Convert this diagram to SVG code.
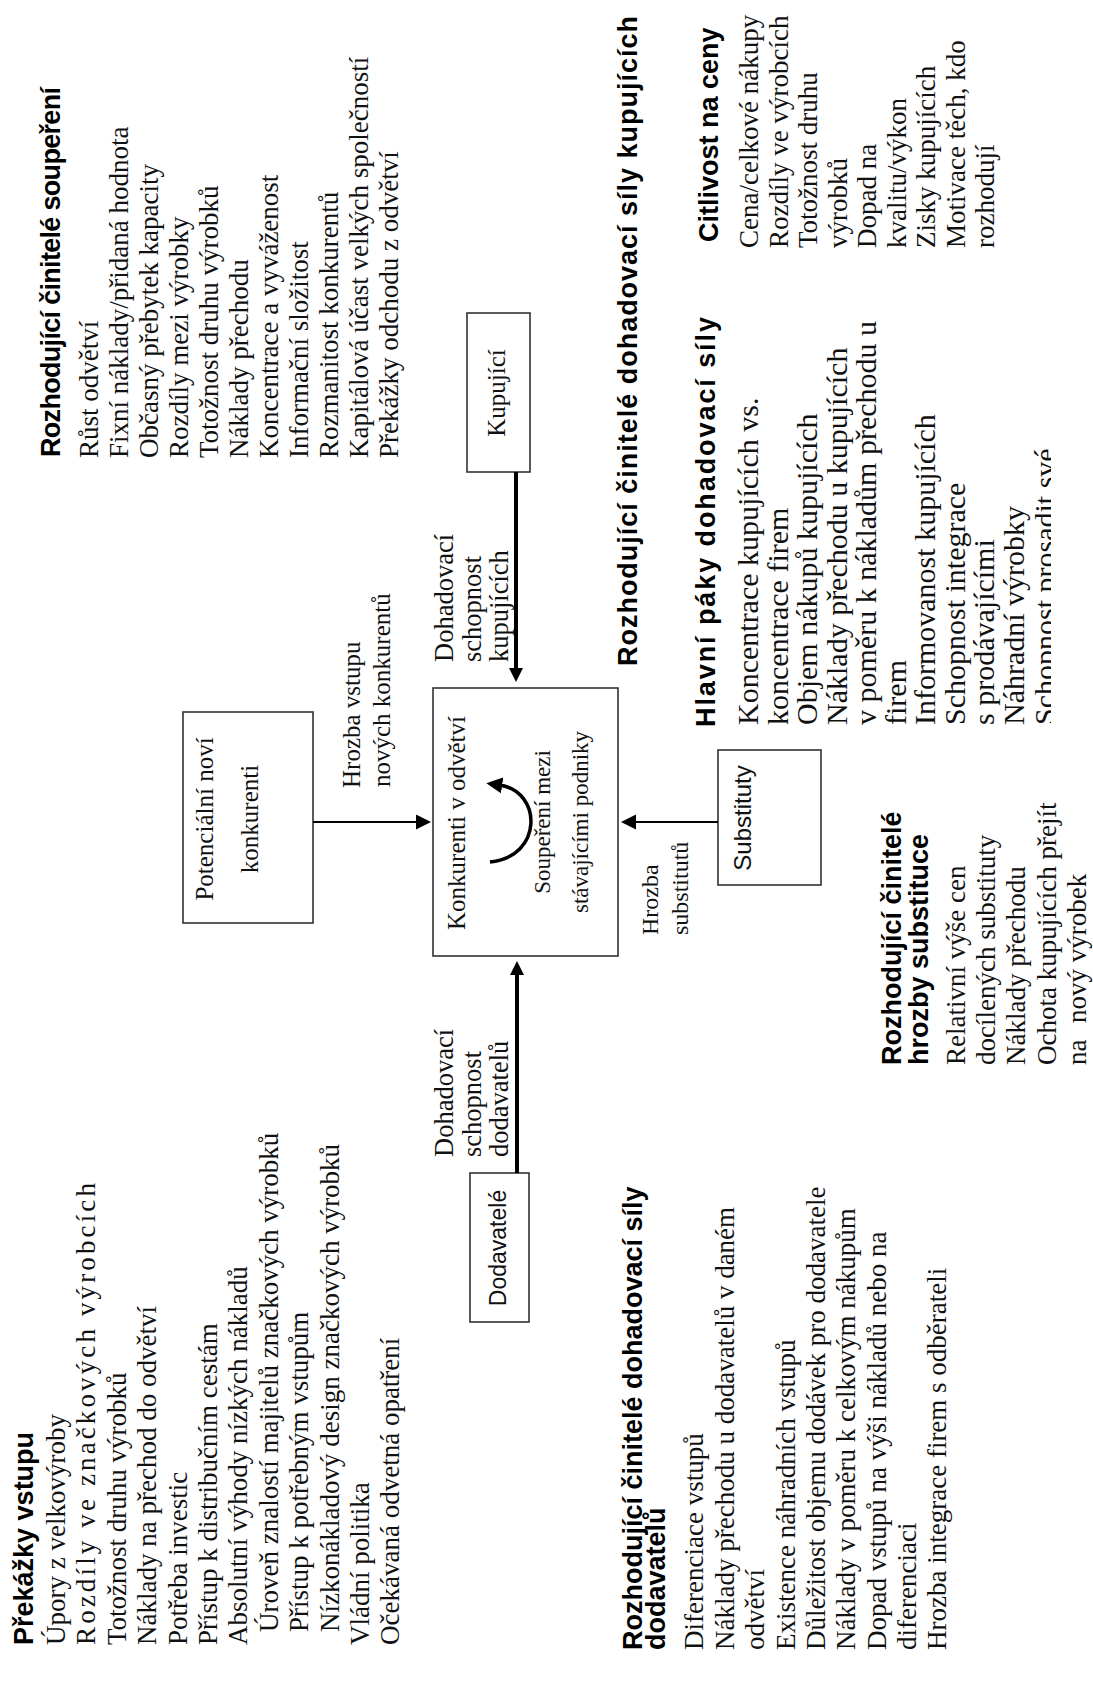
<svg xmlns="http://www.w3.org/2000/svg" width="1093" height="1695" viewBox="0 0 1093 1695">
<defs>
<style>
.t{font-family:"Liberation Serif","Times New Roman",serif;font-size:27px;fill:#111}
.tb{font-family:"Liberation Serif","Times New Roman",serif;font-size:30px;fill:#111}
.h{font-family:"Liberation Sans",Arial,sans-serif;font-size:27px;font-weight:bold;fill:#000}
.lbl{font-family:"Liberation Serif","Times New Roman",serif;font-size:25px;fill:#111}
.lba{font-family:"Liberation Serif","Times New Roman",serif;font-size:26.5px;fill:#111}
.lbs{font-family:"Liberation Serif","Times New Roman",serif;font-size:23px;fill:#111}
.sans{font-family:"Liberation Sans",Arial,sans-serif;font-size:23px;fill:#111}
.box{fill:#fff;stroke:#333;stroke-width:1.6}
.thin{fill:none;stroke:#000;stroke-width:2}
.thick{fill:none;stroke:#000;stroke-width:4}
</style>
<marker id="ah" viewBox="0 0 10 10" refX="0" refY="5" markerUnits="userSpaceOnUse" markerWidth="15" markerHeight="17" orient="auto">
<path d="M0,0 L10,5 L0,10 z" fill="#000"/>
</marker>
<marker id="ahk" viewBox="0 0 10 10" refX="0" refY="5" markerUnits="userSpaceOnUse" markerWidth="16" markerHeight="14" orient="auto">
<path d="M0,0 L10,5 L0,10 z" fill="#000"/>
</marker>
<marker id="ahc" viewBox="0 0 10 10" refX="2" refY="5" markerUnits="userSpaceOnUse" markerWidth="16" markerHeight="16" orient="auto">
<path d="M0,0 L10,5 L0,10 z" fill="#000"/>
</marker>
<clipPath id="cut" clipPathUnits="userSpaceOnUse">
<rect x="0" y="0" width="1695" height="1051"/>
</clipPath>
</defs>
<rect width="1093" height="1695" fill="#fff"/>
<g transform="translate(0,1695) rotate(-90)">

<g id="node-potencialni">
<rect class="box" x="772" y="183" width="211" height="130"/>
<text class="lbl" x="876" y="213" text-anchor="middle">Potenciální noví</text>
<text class="lbl" x="876" y="258" text-anchor="middle">konkurenti</text>
</g>

<g id="node-konkurenti">
<rect class="box" x="739" y="433" width="268" height="185"/>
<text class="lbl" x="872" y="465" text-anchor="middle">Konkurenti v odvětví</text>
<text class="lbs" x="873" y="550" text-anchor="middle">Soupeření mezi</text>
<text class="lbs" x="873" y="588" text-anchor="middle">stávajícími podniky</text>
</g>

<g id="node-kupujici">
<rect class="box" x="1223" y="467" width="159" height="63"/>
<text class="lbl" x="1302" y="505" text-anchor="middle">Kupující</text>
</g>

<g id="node-dodavatele">
<rect class="box" x="373" y="470" width="149" height="59"/>
<text class="sans" x="447" y="506" text-anchor="middle">Dodavatelé</text>
</g>

<g id="node-substituty">
<rect class="box" x="810" y="718" width="135" height="103"/>
<text class="sans" x="877" y="751" text-anchor="middle" style="font-size:24px">Substituty</text>
</g>

<g id="connectors">
<line class="thin" x1="873" y1="313" x2="873" y2="416" marker-end="url(#ah)"/>
<line class="thick" x1="1223" y1="516" x2="1027" y2="516" marker-end="url(#ahk)"/>
<line class="thin" x1="873" y1="718" x2="873" y2="636" marker-end="url(#ah)"/>
<line class="thick" x1="522" y1="517" x2="720" y2="517" marker-end="url(#ahk)"/>
<path d="M833,490 C838,543 904,543 910,499" fill="none" stroke="#000" stroke-width="3.5" marker-end="url(#ahc)"/>
<text class="lbl" x="907" y="360">Hrozba vstupu</text>
<text class="lbl" x="908" y="390">nových konkurentů</text>
<text class="lba" x="1033" y="453">Dohadovací</text>
<text class="lba" x="1033" y="481">schopnost</text>
<text class="lba" x="1033" y="508">kupujících</text>
<text class="lbl" x="760" y="658" style="font-size:24px">Hrozba</text>
<text class="lbl" x="760" y="688" style="font-size:24px">substitutů</text>
<text class="lba" x="538" y="453">Dohadovací</text>
<text class="lba" x="538" y="481">schopnost</text>
<text class="lba" x="538" y="508">dodavatelů</text>
</g>

<g id="prekazky-vstupu">
<text class="h" x="50" y="33">Překážky vstupu</text>
<text class="t" x="50" y="65">Úpory z velkovýroby</text>
<text class="t" x="50" y="95.4" textLength="462" lengthAdjust="spacing">Rozdíly ve značkových výrobcích</text>
<text class="t" x="50" y="125.8">Totožnost druhu výrobků</text>
<text class="t" x="50" y="156.2">Náklady na přechod do odvětví</text>
<text class="t" x="50" y="186.6">Potřeba investic</text>
<text class="t" x="50" y="217">Přístup k distribučním cestám</text>
<text class="t" x="50" y="247.4">Absolutní výhody nízkých nákladů</text>
<text class="t" x="63" y="277.8">Úroveň znalostí majitelů značkových výrobků</text>
<text class="t" x="63" y="308.2">Přístup k potřebným vstupům</text>
<text class="t" x="63" y="338.6">Nízkonákladový design značkových výrobků</text>
<text class="t" x="50" y="369">Vládní politika</text>
<text class="t" x="50" y="399.4">Očekávaná odvetná opatření</text>
</g>

<g id="souperni">
<text class="h" x="1238" y="60" textLength="370" lengthAdjust="spacing">Rozhodující činitelé soupeření</text>
<text class="t" x="1237" y="98">Růst odvětví</text>
<text class="t" x="1237" y="128">Fixní náklady/přidaná hodnota</text>
<text class="t" x="1237" y="158">Občasný přebytek kapacity</text>
<text class="t" x="1237" y="188">Rozdíly mezi výrobky</text>
<text class="t" x="1237" y="218">Totožnost druhu výrobků</text>
<text class="t" x="1237" y="248">Náklady přechodu</text>
<text class="t" x="1237" y="278">Koncentrace a vyváženost</text>
<text class="t" x="1237" y="308">Informační složitost</text>
<text class="t" x="1237" y="338">Rozmanitost konkurentů</text>
<text class="t" x="1237" y="368">Kapitálová účast velkých společností</text>
<text class="t" x="1237" y="398">Překážky odchodu z odvětví</text>
</g>

<g id="dodavatele-cinitele">
<text class="h" x="45" y="642">Rozhodující činitelé dohadovací síly</text>
<text class="h" x="45" y="665">dodavatelů</text>
<text class="t" x="45" y="703">Diferenciace vstupů</text>
<text class="t" x="45" y="734">Náklady přechodu u dodavatelů v daném</text>
<text class="t" x="45" y="764">odvětví</text>
<text class="t" x="45" y="795">Existence náhradních vstupů</text>
<text class="t" x="45" y="825">Důležitost objemu dodávek pro dodavatele</text>
<text class="t" x="45" y="855">Náklady v poměru k celkovým nákupům</text>
<text class="t" x="45" y="886">Dopad vstupů na výši nákladů nebo na</text>
<text class="t" x="45" y="916">diferenciaci</text>
<text class="t" x="45" y="946">Hrozba integrace firem s odběrateli</text>
</g>

<g id="substituce-cinitele">
<text class="h" x="630" y="901">Rozhodující činitelé</text>
<text class="h" x="630" y="928">hrozby substituce</text>
<text class="t" x="630" y="965">Relativní výše cen</text>
<text class="t" x="630" y="995">docílených substituty</text>
<text class="t" x="630" y="1025">Náklady přechodu</text>
<text class="t" x="630" y="1056">Ochota kupujících přejít</text>
<text class="t" x="630" y="1086">na<tspan x="672">nový výrobek</tspan></text>
</g>

<g id="kupujici-cinitele">
<text class="h" x="1029" y="637" textLength="650" lengthAdjust="spacing">Rozhodující činitelé dohadovací síly kupujících</text>
<text class="h" x="968" y="715" textLength="410" lengthAdjust="spacing">Hlavní páky dohadovací síly</text>
<text class="tb" x="970" y="758">Koncentrace kupujících vs.</text>
<text class="tb" x="970" y="787.5">koncentrace firem</text>
<text class="tb" x="970" y="817">Objem nákupů kupujících</text>
<text class="tb" x="970" y="846.5">Náklady přechodu u kupujících</text>
<text class="tb" x="970" y="876">v poměru k nákladům přechodu u</text>
<text class="tb" x="970" y="905.5">firem</text>
<text class="tb" x="970" y="935">Informovanost kupujících</text>
<text class="tb" x="970" y="964.5">Schopnost integrace</text>
<text class="tb" x="970" y="994">s prodávajícími</text>
<text class="tb" x="970" y="1023.5">Náhradní výrobky</text>
<text class="tb" x="970" y="1055" clip-path="url(#cut)">Schopnost prosadit své</text>
<text class="h" x="1453" y="718">Citlivost na ceny</text>
<text class="t" x="1447" y="758">Cena/celkové nákupy</text>
<text class="t" x="1447" y="787.5">Rozdíly ve výrobcích</text>
<text class="t" x="1447" y="817">Totožnost druhu</text>
<text class="t" x="1447" y="846.5">výrobků</text>
<text class="t" x="1447" y="876">Dopad na</text>
<text class="t" x="1447" y="905.5">kvalitu/výkon</text>
<text class="t" x="1447" y="935">Zisky kupujících</text>
<text class="t" x="1447" y="964.5">Motivace těch, kdo</text>
<text class="t" x="1447" y="994">rozhodují</text>
</g>

</g>
</svg>
